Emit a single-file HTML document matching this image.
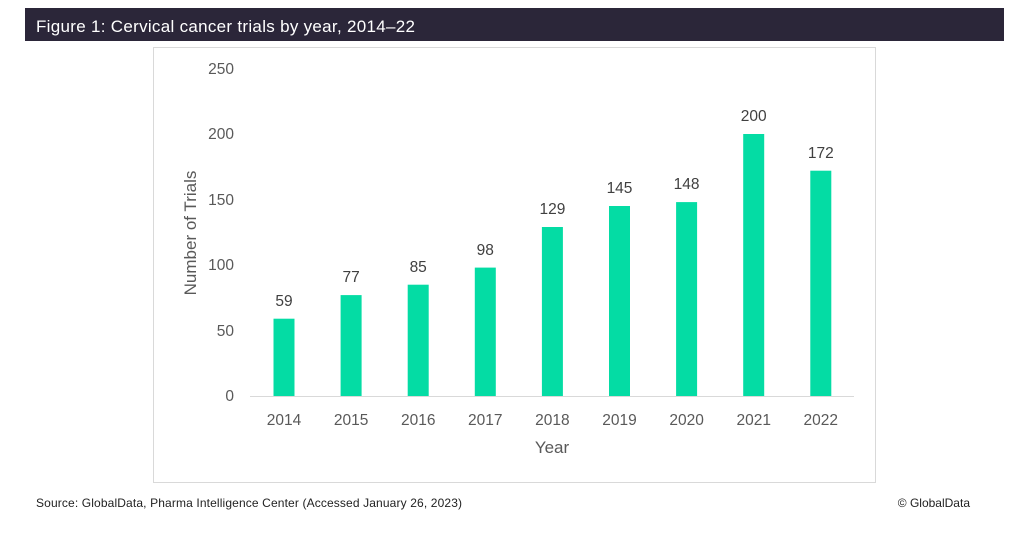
<!DOCTYPE html>
<html><head><style>
body{margin:0;background:#fff;width:1024px;height:543px;overflow:hidden;font-family:"Liberation Sans",sans-serif;}
</style></head><body>
<svg width="1024" height="543" xmlns="http://www.w3.org/2000/svg" font-family="Liberation Sans, sans-serif">
<rect x="25" y="8" width="979" height="33" fill="#2b2639"/>
<text x="36" y="32" fill="#fff" font-size="17" textLength="379" lengthAdjust="spacing">Figure 1: Cervical cancer trials by year, 2014–22</text>
<rect x="153.5" y="47.5" width="722" height="435" fill="#fff" stroke="#d9d9d9"/>
<g fill="#595959" font-size="15.5" text-anchor="end">
<text x="234" y="401">0</text>
<text x="234" y="336">50</text>
<text x="234" y="270">100</text>
<text x="234" y="205">150</text>
<text x="234" y="139">200</text>
<text x="234" y="74">250</text>
</g>
<line x1="250" y1="396.5" x2="854" y2="396.5" stroke="#d9d9d9"/>
<text transform="translate(196,233) rotate(-90)" fill="#595959" font-size="17" text-anchor="middle">Number of Trials</text>
<text x="552" y="453" fill="#595959" font-size="17" text-anchor="middle">Year</text>
<g fill="#04dca4">
<rect x="273.5" y="318.7" width="21" height="77.3"/>
<rect x="340.6" y="295.1" width="21" height="100.9"/>
<rect x="407.7" y="284.7" width="21" height="111.3"/>
<rect x="474.8" y="267.6" width="21" height="128.4"/>
<rect x="541.9" y="227" width="21" height="169"/>
<rect x="609" y="206" width="21" height="190"/>
<rect x="676.1" y="202.1" width="21" height="193.9"/>
<rect x="743.2" y="134" width="21" height="262"/>
<rect x="810.3" y="170.7" width="21" height="225.3"/>
</g>
<g fill="#404040" font-size="15.5" text-anchor="middle">
<text x="284" y="306">59</text>
<text x="351.1" y="282">77</text>
<text x="418.2" y="272">85</text>
<text x="485.3" y="255">98</text>
<text x="552.4" y="214">129</text>
<text x="619.5" y="193">145</text>
<text x="686.6" y="189">148</text>
<text x="753.7" y="121">200</text>
<text x="820.8" y="158">172</text>
</g>
<g fill="#595959" font-size="15.5" text-anchor="middle">
<text x="284" y="425">2014</text>
<text x="351.1" y="425">2015</text>
<text x="418.2" y="425">2016</text>
<text x="485.3" y="425">2017</text>
<text x="552.4" y="425">2018</text>
<text x="619.5" y="425">2019</text>
<text x="686.6" y="425">2020</text>
<text x="753.7" y="425">2021</text>
<text x="820.8" y="425">2022</text>
</g>
<text x="36" y="507" fill="#222" font-size="12" textLength="426" lengthAdjust="spacing">Source: GlobalData, Pharma Intelligence Center (Accessed January 26, 2023)</text>
<text x="970" y="507" fill="#222" font-size="12" text-anchor="end">© GlobalData</text>
</svg>
</body></html>
